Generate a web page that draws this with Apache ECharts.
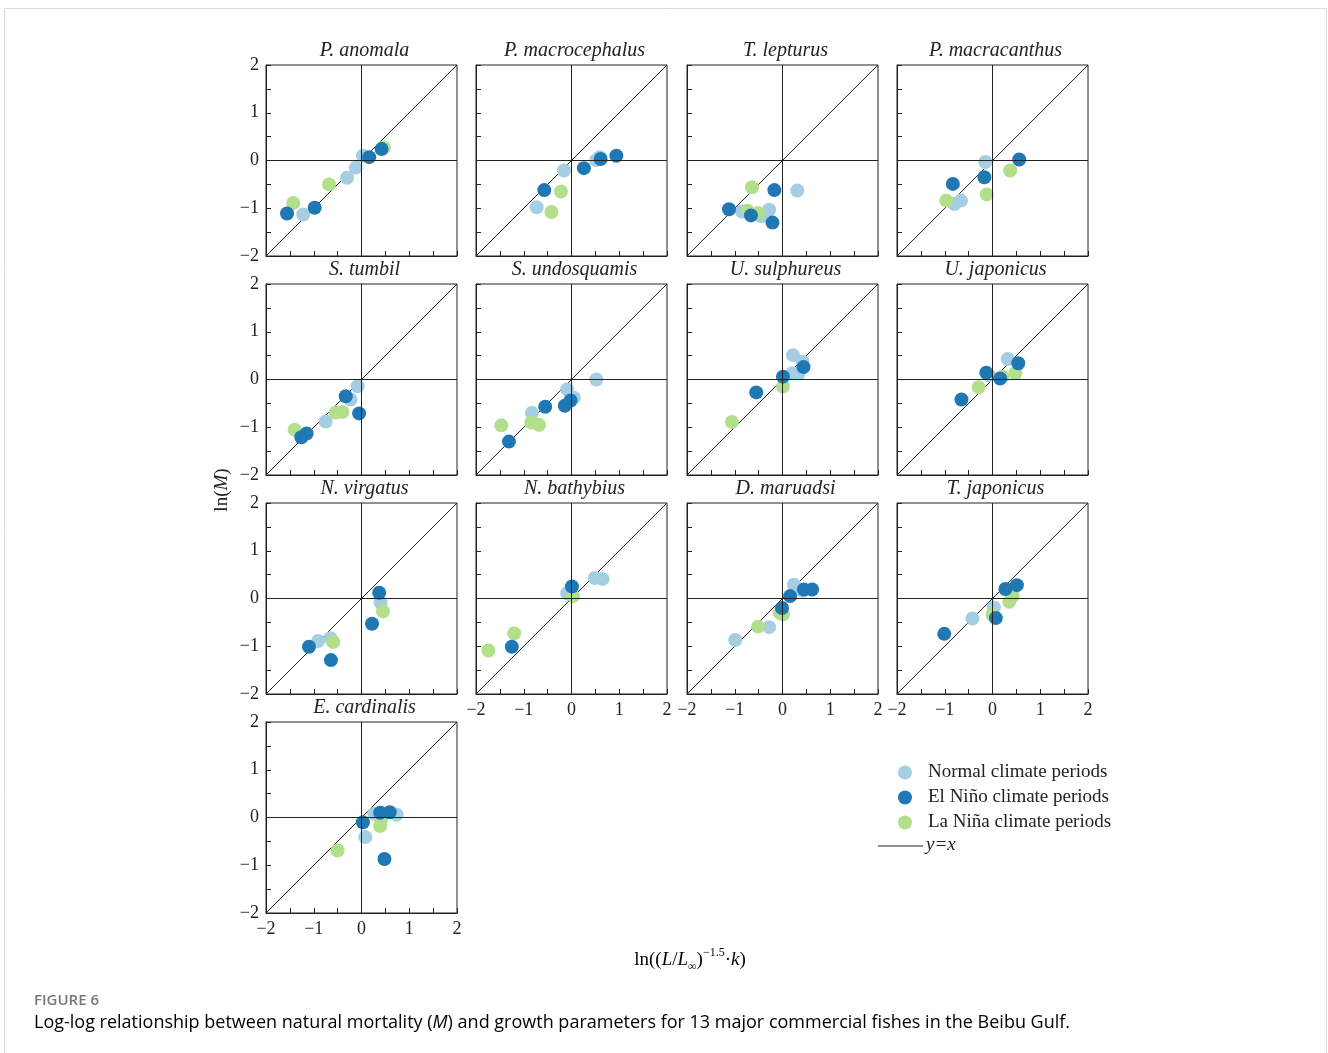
<!DOCTYPE html>
<html><head><meta charset="utf-8">
<script src="https://cdn.jsdelivr.net/npm/echarts@6/dist/echarts.min.js"></script>
<style>html,body{margin:0;padding:0;background:#fff}#c{width:1328px;height:1053px}</style>
</head><body><div id="c"></div>
<script>
// ---- data ----
const species = ['P. anomala','P. macrocephalus','T. lepturus','P. macracanthus',
  'S. tumbil','S. undosquamis','U. sulphureus','U. japonicus',
  'N. virgatus','N. bathybius','D. maruadsi','T. japonicus','E. cardinalis'];
const seriesNames = ['Normal climate periods','El Niño climate periods','La Niña climate periods'];
const normal = [
  [[-1.22,-1.13],[-0.30,-0.36],[-0.12,-0.15],[0.03,0.10]],
  [[-0.73,-0.98],[-0.16,-0.21],[0.59,0.07],[0.52,0.01]],
  [[-0.85,-1.07],[-0.44,-1.17],[-0.28,-1.03],[0.31,-0.63]],
  [[-0.15,-0.03],[-0.80,-0.91],[-0.66,-0.84]],
  [[-0.75,-0.88],[-0.23,-0.42],[-0.08,-0.14]],
  [[-0.83,-0.70],[0.05,-0.38],[-0.09,-0.21],[0.52,0.00]],
  [[0.21,0.13],[0.34,0.13],[0.42,0.37],[0.22,0.51]],
  [[-0.07,0.09],[0.32,0.43]],
  [[-0.91,-0.89],[-0.65,-0.83],[0.40,-0.09]],
  [[-0.09,0.11],[0.49,0.43],[0.65,0.41]],
  [[-0.99,-0.87],[-0.28,-0.60],[0.24,0.29],[0.42,0.16]],
  [[-0.42,-0.42],[0.03,-0.19],[0.42,0.19]],
  [[0.08,-0.41],[0.27,0.08],[0.74,0.06]]
];
const elNino = [
  [[-1.56,-1.11],[-0.98,-0.99],[0.16,0.07],[0.42,0.24]],
  [[-0.57,-0.62],[0.26,-0.16],[0.61,0.03],[0.94,0.10]],
  [[-1.12,-1.02],[-0.66,-1.15],[-0.21,-1.30],[-0.17,-0.62]],
  [[0.56,0.02],[-0.17,-0.35],[-0.83,-0.49]],
  [[-1.26,-1.21],[-1.15,-1.13],[-0.33,-0.35],[-0.05,-0.71]],
  [[-1.31,-1.30],[-0.55,-0.57],[-0.14,-0.55],[-0.02,-0.44]],
  [[-0.55,-0.27],[0.01,0.06],[0.44,0.26]],
  [[-0.65,-0.42],[-0.13,0.14],[0.16,0.02],[0.54,0.34]],
  [[-1.10,-1.01],[-0.64,-1.29],[0.22,-0.53],[0.37,0.12]],
  [[-1.25,-1.01],[0.01,0.25]],
  [[-0.01,-0.20],[0.16,0.05],[0.45,0.19],[0.62,0.19]],
  [[-1.01,-0.74],[0.07,-0.41],[0.27,0.20],[0.51,0.28]],
  [[0.03,-0.10],[0.39,0.10],[0.59,0.11],[0.48,-0.87]]
];
const laNina = [
  [[-1.43,-0.89],[-0.68,-0.50],[0.47,0.27]],
  [[-0.42,-1.08],[-0.22,-0.65]],
  [[-0.73,-1.05],[-0.51,-1.10],[-0.64,-0.56]],
  [[0.37,-0.21],[-0.12,-0.71],[-0.97,-0.84]],
  [[-1.40,-1.05],[-0.54,-0.69],[-0.40,-0.68]],
  [[-1.47,-0.96],[-0.84,-0.90],[-0.68,-0.95]],
  [[-1.06,-0.89],[0.01,-0.15]],
  [[-0.29,-0.16],[0.21,0.06],[0.48,0.13]],
  [[-0.59,-0.91],[0.45,-0.27]],
  [[-1.74,-1.09],[-1.20,-0.73],[0.03,0.05]],
  [[-0.51,-0.59],[-0.06,-0.30],[0.01,-0.33]],
  [[0.00,-0.34],[0.42,0.05],[0.35,-0.07]],
  [[-0.50,-0.69],[0.41,-0.03],[0.39,-0.18]]
];
const axisRange = [-2, 2];
const tickStep = 0.5;
const identityLine = [[-2,-2],[2,2]];

// ---- layout / style ----
const colLeft = [266, 476, 687, 897];
const rowTop = [65, 284, 503, 722];
const panelSize = 191;
const colors = ['#a6cee3', '#1f78b4', '#b2df8a'];
const serif = 'Liberation Serif';
const ink = '#222';

const fmt = v => Number.isInteger(v) ? (v < 0 ? '\u2212' + Math.abs(v) : String(v)) : '';

const grids = [], xAxes = [], yAxes = [], series = [], titles = [];
species.forEach((name, i) => {
  const col = i % 4, row = Math.floor(i / 4);
  const left = colLeft[col], top = rowTop[row];
  grids.push({left, top, width: panelSize, height: panelSize, show: true,
    borderColor: ink, borderWidth: 1, backgroundColor: 'transparent'});
  const showX = (row === 2 && col >= 1) || i === 12;
  const showY = col === 0;
  const axisCommon = {
    type: 'value', min: axisRange[0], max: axisRange[1], interval: tickStep,
    gridIndex: i, splitLine: {show: false},
    axisLine: {show: true, onZero: false, lineStyle: {color: ink, width: 1}},
    axisTick: {show: true, inside: true, length: 5, lineStyle: {color: ink, width: 1}},
  };
  xAxes.push(Object.assign({}, axisCommon, {
    axisLabel: {show: showX, formatter: fmt, fontFamily: serif, fontSize: 18, color: ink, margin: 7,
      showMinLabel: true, showMaxLabel: true}
  }));
  yAxes.push(Object.assign({}, axisCommon, {
    axisLabel: {show: showY, formatter: fmt, fontFamily: serif, fontSize: 18, color: ink, margin: 7,
      showMinLabel: true, showMaxLabel: true}
  }));
  titles.push({text: name, left: left + panelSize / 2 - 2, top: top - 29, textAlign: 'center',
    textStyle: {fontFamily: serif, fontStyle: 'italic', fontWeight: 'normal', fontSize: 20, color: ink}});
  series.push({
    type: 'line', xAxisIndex: i, yAxisIndex: i, data: identityLine, symbol: 'none',
    lineStyle: {color: ink, width: 1}, silent: true, z: 1,
    markLine: {silent: true, symbol: ['none', 'none'], label: {show: false},
      lineStyle: {color: ink, width: 1, type: 'solid'},
      data: [{xAxis: 0}, {yAxis: 0}]}
  });
  [normal, laNina, elNino].forEach((arr) => {
    const k = arr === normal ? 0 : (arr === elNino ? 1 : 2);
    series.push({
      type: 'scatter', name: seriesNames[k], xAxisIndex: i, yAxisIndex: i,
      data: arr[i], symbolSize: 14, itemStyle: {color: colors[k], opacity: 1}, z: 3
    });
  });
});

const chart = echarts.init(document.getElementById('c'), null, {renderer: 'canvas'});
chart.setOption({
  animation: false,
  backgroundColor: '#fff',
  title: titles,
  grid: grids, xAxis: xAxes, yAxis: yAxes, series,
  legend: {
    data: seriesNames, orient: 'vertical', left: 893, top: 758,
    icon: 'circle', itemWidth: 14, itemHeight: 14, itemGap: 6,
    textStyle: {fontFamily: serif, fontSize: 19, color: ink, padding: [0, 0, 0, 11]},
    selectedMode: false
  },
  graphic: [
    {type: 'rect', shape: {x: 4.5, y: 8.5, width: 1322, height: 1080},
      style: {fill: 'none', stroke: '#dcdcdc', lineWidth: 1}, silent: true},
    {type: 'line', shape: {x1: 878, y1: 846, x2: 923, y2: 846}, style: {stroke: ink, lineWidth: 1}},
    {type: 'text', left: 926, top: 835, style: {text: 'y=x', font: 'italic 19px "Liberation Serif"', fill: ink}},
    {type: 'text', x: 222, y: 490, rotation: Math.PI / 2, style: {
      text: '{n|ln(}{i|M}{n|)}', align: 'center', verticalAlign: 'middle',
      rich: {n: {fontFamily: serif, fontSize: 19, fill: ink, color: ink},
             i: {fontFamily: serif, fontSize: 19, fontStyle: 'italic', fill: ink, color: ink}}}},
    {type: 'text', x: 690, y: 960, style: {
      text: '{n|ln((}{i|L}{n|/}{i|L}{sub|\u221E}{n|)}{sup|\u22121.5}{n|\u00B7}{i|k}{n|)}',
      align: 'center', verticalAlign: 'middle',
      rich: {n: {fontFamily: serif, fontSize: 19, color: ink, lineHeight: 26, verticalAlign: 'middle'},
             i: {fontFamily: serif, fontSize: 19, fontStyle: 'italic', color: ink, lineHeight: 26, verticalAlign: 'middle'},
             sub: {fontFamily: serif, fontSize: 12, color: ink, verticalAlign: 'bottom', lineHeight: 26},
             sup: {fontFamily: serif, fontSize: 12, color: ink, verticalAlign: 'top', lineHeight: 26}}}},
    {type: 'text', left: 34, top: 993, style: {text: 'FIGURE 6', font: '600 15px "Open Sans"', fill: '#777'}},
    {type: 'text', left: 34, top: 1014, style: {
      text: '{n|Log-log relationship between natural mortality (}{i|M}{n|) and growth parameters for 13 major commercial fishes in the Beibu Gulf.}',
      rich: {n: {fontFamily: 'Open Sans', fontSize: 18, color: '#888'},
             i: {fontFamily: 'Open Sans', fontSize: 18, fontStyle: 'italic', color: '#888'}}}}
  ]
});
</script></body></html>
